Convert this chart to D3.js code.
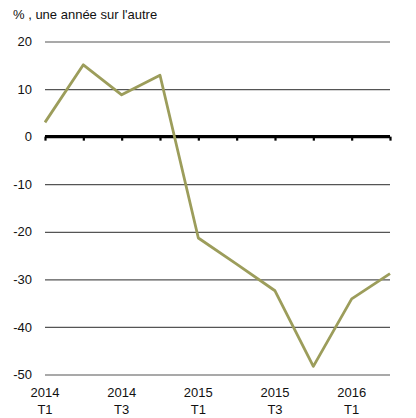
<!DOCTYPE html>
<html>
<head>
<meta charset="utf-8">
<script src="https://cdn.jsdelivr.net/npm/d3@7"></script>
<style>
  body { margin: 0; background: #fff; }
  svg { display: block; font-family: "Liberation Sans", Arial, sans-serif; }
</style>
</head>
<body>
<svg id="chart" width="416" height="418"></svg>
<script>
// quarters 2014 T1 .. 2016 T2
const quarters = ["2014 T1", "2014 T2", "2014 T3", "2014 T4", "2015 T1", "2015 T2", "2015 T3", "2015 T4", "2016 T1", "2016 T2"];
const values = [3.0, 15.1, 8.8, 12.9, -21.3, -26.8, -32.4, -48.3, -34.1, -28.8];
const yTicks = [20, 10, 0, -10, -20, -30, -40, -50];
const labelEvery = 2;

const svg = d3.select("#chart");
const plotLeft = 45, plotRight = 390, plotTop = 41.5, plotBottom = 374.5;

const x = d3.scalePoint().domain(quarters).range([plotLeft, plotRight]);
const y = d3.scaleLinear().domain([-50, 20]).range([plotBottom, plotTop]);

svg.append("text")
    .attr("x", 13)
    .attr("y", 19)
    .attr("font-size", 13)
    .attr("fill", "#111")
    .text("% , une année sur l'autre");

// horizontal grid lines + labels (plain hyphen for negatives, like the source)
const yAxis = d3.axisLeft(y)
    .tickValues(yTicks)
    .tickSize(-(plotRight - plotLeft))
    .tickPadding(13)
    .tickFormat(d => String(d));

const gy = svg.append("g")
    .attr("transform", `translate(${plotLeft},0)`)
    .call(yAxis);
gy.select(".domain").remove();
gy.selectAll("line")
    .attr("stroke", d => d === 0 ? "none" : "#555")
    .attr("stroke-width", 1.2);
gy.selectAll("text")
    .attr("font-size", 13)
    .attr("fill", "#111")
    .attr("font-family", "'Liberation Sans', Arial, sans-serif");

// zero line with small ticks
const xAxis = d3.axisBottom(x).tickSize(4).tickFormat("");
const gx = svg.append("g")
    .attr("transform", `translate(0,${y(0)})`)
    .call(xAxis);
gx.select(".domain")
    .attr("stroke", "#000")
    .attr("stroke-width", 3.2)
    .attr("d", `M${plotLeft},0H${plotRight}`);
gx.selectAll(".tick line")
    .attr("stroke", "#000")
    .attr("stroke-width", 2.2);

// category labels along the bottom
const lab = svg.append("g")
    .selectAll("text")
    .data(quarters.filter((q, i) => i % labelEvery === 0))
    .enter().append("text")
    .attr("x", d => x(d))
    .attr("y", 397)
    .attr("text-anchor", "middle")
    .attr("font-size", 13)
    .attr("fill", "#111");
lab.append("tspan").attr("x", d => x(d)).text(d => d.split(" ")[0]);
lab.append("tspan").attr("x", d => x(d)).attr("dy", 17).text(d => d.split(" ")[1]);

// the series
const line = d3.line()
    .x((d, i) => x(quarters[i]))
    .y(d => y(d));

svg.append("path")
    .datum(values)
    .attr("fill", "none")
    .attr("stroke", "#9c9d5b")
    .attr("stroke-width", 2.8)
    .attr("stroke-linejoin", "round")
    .attr("d", line);
</script>
</body>
</html>
